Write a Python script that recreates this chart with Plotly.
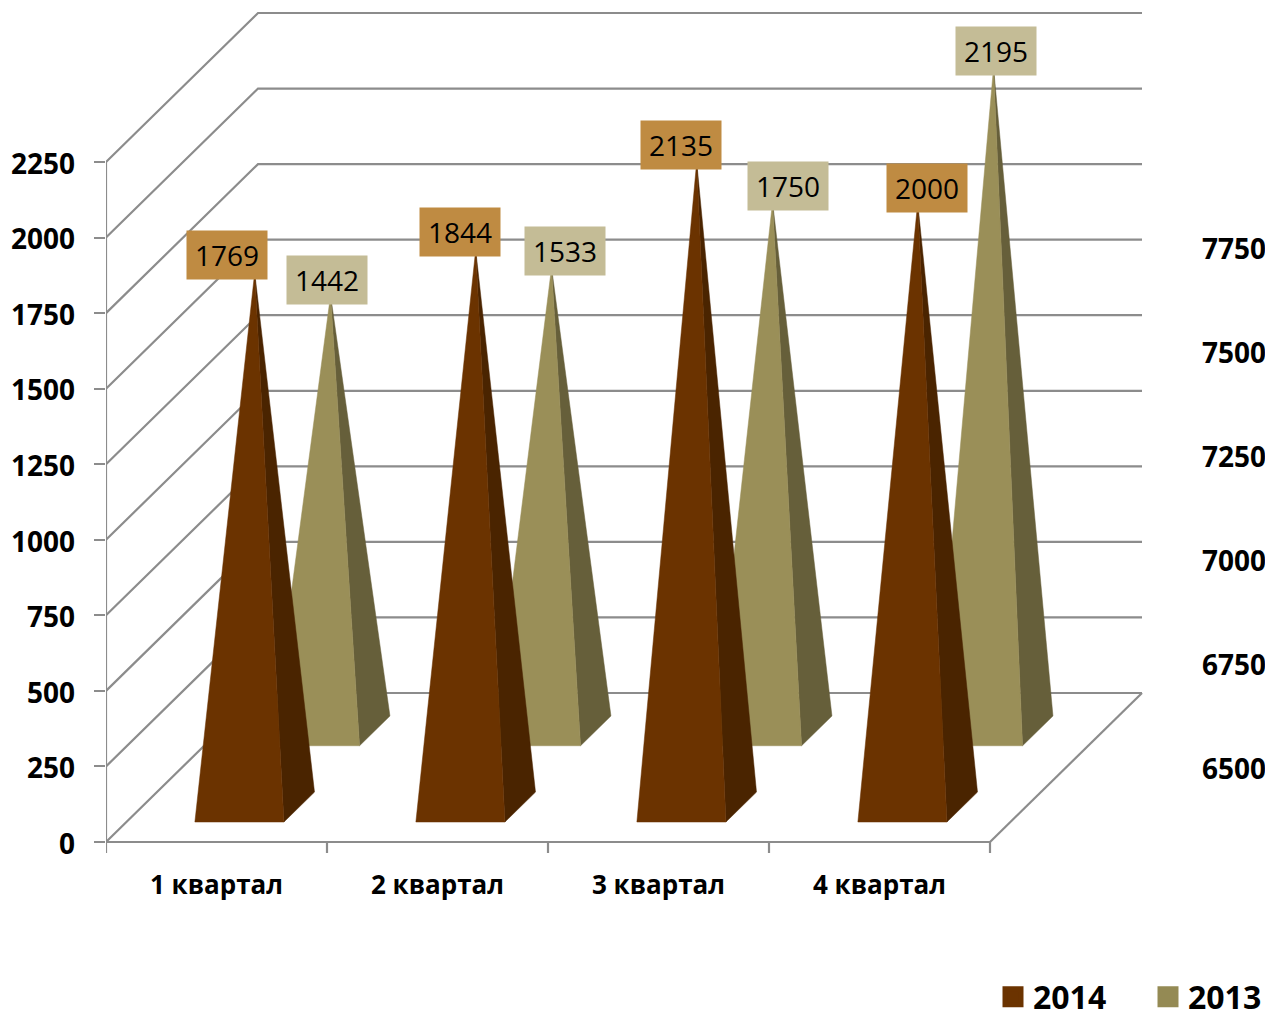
import plotly.graph_objects as go

categories = ["1 квартал", "2 квартал", "3 квартал", "4 квартал"]
values_2014 = [1769, 1844, 2135, 2000]
values_2013 = [1442, 1533, 1750, 2195]
left_ticks = [0, 250, 500, 750, 1000, 1250, 1500, 1750, 2000, 2250]
right_ticks = [6500, 6750, 7000, 7250, 7500, 7750]
label_shift_2014 = [(-28, 17.5), (-16, 17.5), (-16, 17), (9, 15)]
label_shift_2013 = [(-4, 15), (13, 17), (15, 16), (2, 16)]

# projection of the oblique 3D box (pixels per unit)
PX_CAT = 221.0
PX_VAL = 680 / 2250
DEPTH_X = 152 / PX_CAT       # category units per full depth
DEPTH_Y = 149 / PX_VAL       # value units per full depth
L, R, T, B = 106, 70, 0, 159
W, H = 1265, 1012
BELOW = 11                   # pixels of plot area under the value 0, for the tick marks
GRID = "#8c8c8c"
FONT = "Open Sans"

def proj(c, v, d):
    return c + d * DEPTH_X, v + d * DEPTH_Y

def pyramids(values, x0, x1, d0, d1):
    front_x, front_y, side_x, side_y, tips = [], [], [], [], []
    for i, v in enumerate(values):
        a = proj(i + x0, 0, d0)
        b = proj(i + x1, 0, d0)
        c = proj(i + x1, 0, d1)
        tip = proj(i + (x0 + x1) / 2, v, (d0 + d1) / 2)
        tips.append(tip)
        front_x += [a[0], b[0], tip[0], a[0], None]
        front_y += [a[1], b[1], tip[1], a[1], None]
        side_x += [b[0], c[0], tip[0], b[0], None]
        side_y += [b[1], c[1], tip[1], b[1], None]
    return front_x, front_y, side_x, side_y, tips

fig = go.Figure()

# walls and floor
bx, by = [], []
for t in left_ticks:
    p0 = proj(0, t, 1)
    p1 = proj(4, t, 1)
    q = proj(0, t, 0)
    bx += [q[0], p0[0], p1[0], None]
    by += [q[1], p0[1], p1[1], None]
for a, b in [((0, 0, 0), (4, 0, 0)), ((4, 0, 0), (4, 0, 1)), ((0, 0, 0), (0, 2250, 0))]:
    p0, p1 = proj(*a), proj(*b)
    bx += [p0[0], p1[0], None]
    by += [p0[1], p1[1], None]
for i in range(len(categories) + 1):
    bx += [i, i, None]
    by += [0, -BELOW / PX_VAL, None]
fig.add_trace(go.Scatter(x=bx, y=by, mode="lines", line=dict(color=GRID, width=2.2),
                         showlegend=False, hoverinfo="skip"))

def add_faces(x, y, color):
    fig.add_trace(go.Scatter(x=x, y=y, mode="lines", fill="toself", fillcolor=color,
                             line=dict(color=color, width=0.5), showlegend=False, hoverinfo="skip"))

f13 = pyramids(values_2013, 0.303, 0.703, 0.646, 0.846)
f14 = pyramids(values_2014, 0.310, 0.713, 0.134, 0.335)
add_faces(f13[2], f13[3], "#665F3A")
add_faces(f13[0], f13[1], "#9A8F58")
add_faces(f14[2], f14[3], "#4A2400")
add_faces(f14[0], f14[1], "#6B3300")

# legend
for name, color in [("2014", "#6B3300"), ("2013", "#948A54")]:
    fig.add_trace(go.Scatter(x=[None], y=[None], mode="markers", name=name,
                             marker=dict(symbol="square", size=16, color=color,
                                         line=dict(color=color, width=5))))

# axis carriers
fig.add_trace(go.Scatter(x=[0], y=[right_ticks[0]], yaxis="y2", mode="markers",
                         marker=dict(opacity=0), showlegend=False, hoverinfo="skip"))
fig.add_trace(go.Scatter(x=[0], y=[left_ticks[0]], yaxis="y3", mode="markers",
                         marker=dict(opacity=0), showlegend=False, hoverinfo="skip"))

# data labels
def add_labels(values, tips, shifts, color):
    for v, tip, s in zip(values, tips, shifts):
        fig.add_annotation(x=tip[0], y=tip[1], text=str(v), showarrow=False,
                           xshift=s[0], yshift=s[1], width=80, height=48, borderpad=0,
                           bgcolor=color, font=dict(family=FONT, size=28, color="#000"))

add_labels(values_2013, f13[4], label_shift_2013, "#C4BC96")
add_labels(values_2014, f14[4], label_shift_2014, "#BF8B42")

plot_w = W - L - R
plot_h = H - T - B
zero_h = plot_h - BELOW      # plot height above the value 0
TICK_FONT = dict(family=FONT, size=28, color="#000", weight=700)
fig.update_layout(
    width=W, height=H, autosize=False,
    margin=dict(l=L, r=R, t=T, b=B, pad=0, autoexpand=False),
    paper_bgcolor="white", plot_bgcolor="white",
    xaxis=dict(range=[0, plot_w / PX_CAT], tickmode="array", automargin=False,
               tickvals=[i + 0.5 for i in range(len(categories))], ticktext=categories,
               ticks="", showgrid=False, zeroline=False, showline=False,
               tickfont=dict(family=FONT, size=26, color="#000", weight=700),
               ticklabelstandoff=14),
    yaxis=dict(range=[-BELOW / PX_VAL, zero_h / PX_VAL], tickmode="array", tickvals=left_ticks,
               automargin=False, ticks="outside", ticklen=11, tickwidth=2, tickcolor=GRID,
               showticklabels=False, showgrid=False, zeroline=False, showline=False),
    yaxis3=dict(overlaying="y", side="left", anchor="x", automargin=False,
                range=[(2 - BELOW) / PX_VAL, (zero_h + 2) / PX_VAL], tickmode="array",
                tickvals=left_ticks, ticks="", showgrid=False, zeroline=False, showline=False,
                ticklabelstandoff=30, tickfont=TICK_FONT),
    yaxis2=dict(overlaying="y", side="right", anchor="x", automargin=False,
                range=[6500 - (73 + BELOW) * 1250 / 520, 6500 + (zero_h - 73) * 1250 / 520],
                tickmode="array", tickvals=right_ticks, ticks="", showgrid=False,
                zeroline=False, showline=False, ticklabelstandoff=6, tickfont=TICK_FONT),
    legend=dict(orientation="h", x=(993 - L) / plot_w, y=-(997 - 853) / plot_h,
                xanchor="left", yanchor="middle", entrywidth=110, entrywidthmode="pixels",
                itemsizing="trace", traceorder="normal", bgcolor="rgba(0,0,0,0)",
                font=dict(family=FONT, size=32, color="#000", weight=700)),
)
fig.write_html("out.html", post_script="document.body.style.margin='0';window.dispatchEvent(new Event('resize'));",
               config={"displayModeBar": False})
